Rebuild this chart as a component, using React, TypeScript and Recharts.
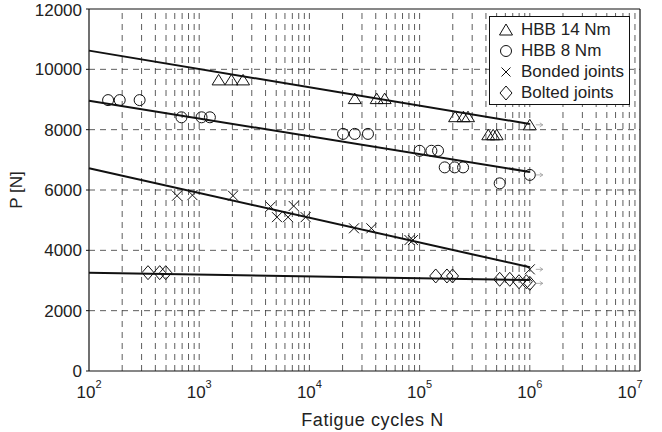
import React from "react";
import {
  ComposedChart,
  Scatter,
  XAxis,
  YAxis,
  ReferenceLine,
} from "recharts";

const FONT = "'Liberation Sans', Arial, Helvetica, sans-serif";

// HBB 14 Nm
const hbb14N = [1500, 1960, 2500, 25800, 40800, 48200, 210000, 250000, 275000, 420000, 465000, 500000, 1000000];
const hbb14P = [9650, 9650, 9650, 9030, 9030, 9030, 8430, 8430, 8430, 7830, 7830, 7830, 8160];

// HBB 8 Nm
const hbb8N = [149, 190, 288, 690, 1050, 1250, 20200, 25800, 34000, 100000, 128000, 147000, 169000, 208000, 248000, 533000, 1000000];
const hbb8P = [8980, 8980, 8980, 8410, 8410, 8410, 7860, 7860, 7860, 7300, 7300, 7300, 6750, 6750, 6750, 6220, 6500];

// Bonded joints
const bondedN = [629, 868, 2026, 4450, 7200, 5080, 6400, 9250, 25400, 36500, 81000, 87000, 1000000];
const bondedP = [5810, 5830, 5810, 5450, 5470, 5100, 5100, 5100, 4730, 4730, 4340, 4340, 3370];

// Bolted joints
const boltedN = [343, 438, 497, 140000, 177000, 199000, 533000, 658000, 798000, 931000, 1000000];
const boltedP = [3260, 3260, 3260, 3150, 3150, 3150, 3040, 3040, 2960, 2960, 2905];

// fitted lines (start at 1e2, end at 1e6)
const fitN = [100, 1000000];
const fit14 = [10620, 8190];
const fit8 = [8960, 6600];
const fitBonded = [6720, 3440];
const fitBolted = [3260, 3015];

const xTicks = [1e2, 1e3, 1e4, 1e5, 1e6, 1e7];
const yTicks = [0, 2000, 4000, 6000, 8000, 10000, 12000];
const runoutN = 1000000;

const legendNames = ["HBB 14 Nm", "HBB 8 Nm", "Bonded joints", "Bolted joints"];

// minor log grid: 2..9 x each decade, plus inner decades
const gridX: number[] = [];
[100, 1000, 10000, 100000, 1000000].forEach((d) => {
  for (let m = 1; m <= 9; m++) {
    if (d === 100 && m === 1) continue;
    gridX.push(d * m);
  }
});
const gridY = [2000, 4000, 6000, 8000, 10000];

const toPoints = (xs: number[], ys: number[]) => xs.map((x, i) => ({ x, y: ys[i] }));

const Arrow = ({ cx, cy }: { cx: number; cy: number }) => (
  <g stroke="#999" strokeWidth={0.8} fill="none">
    <line x1={cx + 6} y1={cy} x2={cx + 13} y2={cy} />
    <path d={`M${cx + 10},${cy - 2} L${cx + 13},${cy} L${cx + 10},${cy + 2}`} />
  </g>
);

const makeShape = (kind: string) => (props: any) => {
  const { cx, cy, payload } = props;
  let mark: React.ReactNode = null;
  if (kind === "tri") {
    mark = <path d={`M${cx},${cy - 5.5} L${cx + 6.5},${cy + 5} L${cx - 6.5},${cy + 5} Z`} />;
  } else if (kind === "circ") {
    mark = <circle cx={cx} cy={cy} r={5.5} />;
  } else if (kind === "cross") {
    mark = <path d={`M${cx - 5},${cy - 5} L${cx + 5},${cy + 5} M${cx - 5},${cy + 5} L${cx + 5},${cy - 5}`} />;
  } else {
    mark = <path d={`M${cx},${cy - 7} L${cx + 6},${cy} L${cx},${cy + 7} L${cx - 6},${cy} Z`} />;
  }
  return (
    <g>
      <g stroke="#111" strokeWidth={1} fill="none">{mark}</g>
      {payload && payload.x >= runoutN ? <Arrow cx={cx} cy={cy} /> : null}
    </g>
  );
};

const LogTick = (props: any) => {
  const { x, y, payload } = props;
  const exp = Math.round(Math.log10(payload.value));
  return (
    <text x={x} y={y + 27} textAnchor="middle" fontSize={17} fill="#222" fontFamily={FONT}>
      <tspan>10</tspan>
      <tspan dy={-10} fontSize={11}>{exp}</tspan>
    </text>
  );
};

const legendIcon = (i: number) => {
  const c = 8;
  if (i === 0) return <path d={`M${c},${c - 6} L${c + 6.5},${c + 5} L${c - 6.5},${c + 5} Z`} />;
  if (i === 1) return <circle cx={c} cy={c} r={5.5} />;
  if (i === 2) return <path d={`M${c - 4.5},${c - 4.5} L${c + 4.5},${c + 4.5} M${c - 4.5},${c + 4.5} L${c + 4.5},${c - 4.5}`} />;
  return <path d={`M${c},${c - 7} L${c + 6},${c} L${c},${c + 7} L${c - 6},${c} Z`} />;
};

export default function App() {
  return (
    <div style={{ position: "absolute", left: 0, top: 0, width: 662, height: 432, background: "#fff" }}>
      <ComposedChart
        width={662}
        height={432}
        margin={{ top: 9, right: 22, left: 29, bottom: 0 }}
        style={{ fontFamily: FONT }}
      >
        <XAxis
          dataKey="x"
          type="number"
          scale="log"
          domain={[100, 10000000]}
          ticks={xTicks}
          allowDataOverflow
          height={61}
          tickLine={false}
          tickSize={0}
          tickMargin={0}
          tick={<LogTick />}
          axisLine={{ stroke: "#111", strokeWidth: 1.2 }}
          label={(p: any) => {
            const vb = p.viewBox;
            return (
              <text x={vb.x + vb.width / 2 + 8} y={vb.y + 55} textAnchor="middle" fontSize={18} letterSpacing={0.6} fill="#222" fontFamily={FONT}>
                Fatigue cycles N
              </text>
            );
          }}
        />
        <YAxis
          dataKey="y"
          type="number"
          domain={[0, 12000]}
          ticks={yTicks}
          width={60}
          tickSize={3}
          tickMargin={4}
          tick={{ fontSize: 17, fill: "#222", fontFamily: FONT }}
          tickLine={{ stroke: "#111" }}
          axisLine={{ stroke: "#111", strokeWidth: 1.2 }}
          label={(p: any) => {
            const vb = p.viewBox;
            return (
              <text
                x={22}
                y={vb.y + vb.height / 2}
                transform={`rotate(-90, 22, ${vb.y + vb.height / 2})`}
                textAnchor="middle"
                fontSize={17}
                fill="#222"
                fontFamily={FONT}
              >
                P [N]
              </text>
            );
          }}
        />

        {gridX.map((v) => (
          <ReferenceLine key={"gx" + v} x={v} stroke="#333" strokeWidth={0.8} strokeDasharray="6 5" />
        ))}
        {gridY.map((v) => (
          <ReferenceLine key={"gy" + v} y={v} stroke="#333" strokeWidth={0.8} strokeDasharray="6 5" />
        ))}
        <ReferenceLine y={12000} stroke="#111" strokeWidth={1.2} />
        <ReferenceLine x={10000000} stroke="#111" strokeWidth={1.2} />

        <ReferenceLine segment={[{ x: fitN[0], y: fit14[0] }, { x: fitN[1], y: fit14[1] }]} stroke="#111" strokeWidth={2} />
        <ReferenceLine segment={[{ x: fitN[0], y: fit8[0] }, { x: fitN[1], y: fit8[1] }]} stroke="#111" strokeWidth={2} />
        <ReferenceLine segment={[{ x: fitN[0], y: fitBonded[0] }, { x: fitN[1], y: fitBonded[1] }]} stroke="#111" strokeWidth={2} />
        <ReferenceLine segment={[{ x: fitN[0], y: fitBolted[0] }, { x: fitN[1], y: fitBolted[1] }]} stroke="#111" strokeWidth={2} />

        <Scatter name={legendNames[0]} data={toPoints(hbb14N, hbb14P)} shape={makeShape("tri")} isAnimationActive={false} />
        <Scatter name={legendNames[1]} data={toPoints(hbb8N, hbb8P)} shape={makeShape("circ")} isAnimationActive={false} />
        <Scatter name={legendNames[2]} data={toPoints(bondedN, bondedP)} shape={makeShape("cross")} isAnimationActive={false} />
        <Scatter name={legendNames[3]} data={toPoints(boltedN, boltedP)} shape={makeShape("diam")} isAnimationActive={false} />
      </ComposedChart>

      <div
        style={{
          position: "absolute",
          left: 489,
          top: 16,
          width: 139,
          height: 87,
          border: "1px solid #111",
          background: "#fff",
          fontFamily: FONT,
          fontSize: 17,
          color: "#222",
        }}
      >
        {legendNames.map((n, i) => (
          <div key={n} style={{ position: "absolute", left: 0, top: 2 + i * 21, height: 21, display: "flex", alignItems: "center", whiteSpace: "nowrap" }}>
            <svg width={16} height={16} style={{ marginLeft: 8, marginRight: 7 }}>
              <g stroke="#111" strokeWidth={1} fill="none">{legendIcon(i)}</g>
            </svg>
            <span>{n}</span>
          </div>
        ))}
      </div>
    </div>
  );
}
